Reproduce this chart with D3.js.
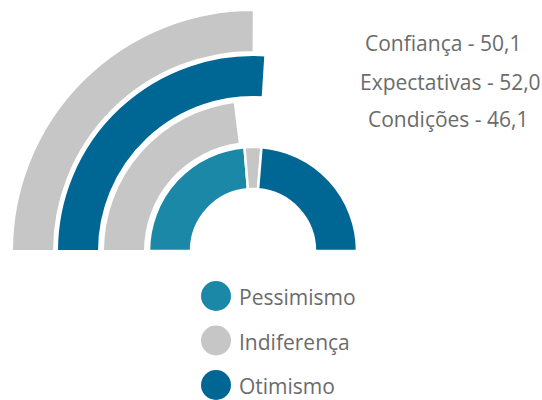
<!DOCTYPE html>
<html><head><meta charset="utf-8">
<script src="https://cdn.jsdelivr.net/npm/d3@7"></script>
<style>body{margin:0;background:#fff}svg{display:block}text{font-family:"Open Sans",sans-serif;fill:#6b6b6b}</style>
</head><body><svg id="c" width="542" height="400"></svg>
<script>
// Indices (outer rings, outermost first)
const indexNames = ["Confiança", "Expectativas", "Condições"];
const indexValues = [50.1, 52.0, 46.1];
const indexLabels = ["Confiança - 50,1", "Expectativas - 52,0", "Condições - 46,1"];
// Inner ring composition
const moodNames = ["Pessimismo", "Indiferença", "Otimismo"];
const moodValues = [47.4, 5.2, 47.4];

const colors = {Pessimismo:"#1a88a6", Indiferença:"#c6c6c6", Otimismo:"#006694"};
const ringColors = ["#c6c6c6", "#006694", "#c6c6c6"];

const svg = d3.select("#c");
const cx = 253, cy = 251;
const g = svg.append("g").attr("transform", `translate(${cx},${cy})`);

const angle = d3.scaleLinear().domain([0, 100]).range([-Math.PI/2, Math.PI/2]);
const ringOuter = [241, 196, 150, 104];
const thick = 42;

// outer index rings
indexValues.forEach((v, i) => {
  const arc = d3.arc().innerRadius(ringOuter[i] - thick).outerRadius(ringOuter[i])
    .startAngle(angle(0)).endAngle(angle(v));
  g.append("path").attr("d", arc()).attr("fill", ringColors[i])
    .attr("stroke", "#fff").attr("stroke-width", 2);
});

// inner ring
let acc = 0;
const innerArc = d3.arc().innerRadius(ringOuter[3] - thick).outerRadius(ringOuter[3]);
moodValues.forEach((v, i) => {
  g.append("path").attr("d", innerArc({startAngle: angle(acc), endAngle: angle(acc + v)}))
    .attr("fill", colors[moodNames[i]]).attr("stroke", "#fff").attr("stroke-width", 2.5);
  acc += v;
});

// index labels
const labelPos = [[365, 51], [360, 90], [368, 127]];
indexLabels.forEach((t, i) => {
  svg.append("text").attr("x", labelPos[i][0]).attr("y", labelPos[i][1])
    .attr("font-size", 21).text(t);
});

// legend
const legY = d3.scalePoint().domain(moodNames).range([296, 385]);
moodNames.forEach(n => {
  svg.append("circle").attr("cx", 216).attr("cy", legY(n)).attr("r", 15).attr("fill", colors[n]);
  svg.append("text").attr("x", 239).attr("y", legY(n) + 9)
    .attr("font-size", 21).text(n);
});
</script></body></html>
